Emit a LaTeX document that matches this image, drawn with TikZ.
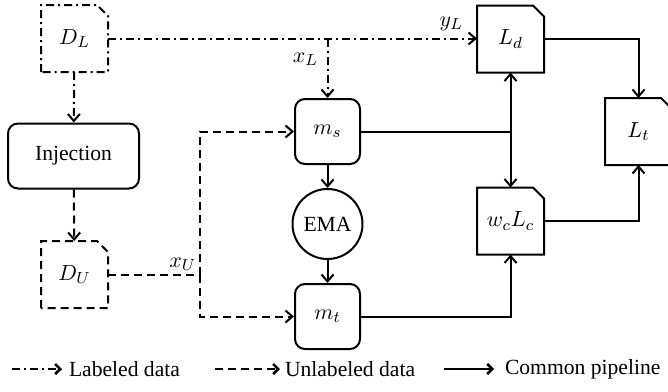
\documentclass[tikz,border=0pt]{standalone}
\usepackage{fontspec}
\setmainfont{Liberation Serif}
\usetikzlibrary{arrows.meta}

% outline of a data/loss file: cut corner at the top right
\newcommand{\fileshape}[2][]{%
    \draw[#1] (#2.south west) -- (#2.north west) -- ([xshift=-5.5pt]#2.north east)
        -- ([yshift=-5.5pt]#2.north east) -- (#2.south east) -- cycle;}

\tikzset{
    every node/.style={font=\fontsize{10.8}{13}\selectfont},
    tip/.style={-{Straight Barb[length=3.5pt,width=6pt]}},
    legtip/.style={-{Straight Barb[length=2.5pt,width=5pt,line width=1.3pt]}},
    labeled/.style={dash pattern=on 4pt off 2pt on 1pt off 2pt},
    unlabeled/.style={dash pattern=on 4pt off 2.5pt},
    block/.style={draw, rounded corners=5pt, minimum width=32.5pt, minimum height=32.5pt},
    datafile/.style={inner sep=0pt, minimum width=32.5pt, minimum height=32.5pt}
}

\begin{document}
\begin{tikzpicture}[x=0.5pt, y=-0.5pt, line width=1pt]
    \useasboundingbox (0,0) rectangle (668,391);
    % data
    \node[datafile] (DL) at (74.5,38.5) {$D_L$};
    \node[block, minimum width=65.5pt] (inj) at (73.5,156) {Injection};
    \node[datafile] (DU) at (74.5,274.5) {$D_U$};
    \fileshape[labeled]{DL}
    \fileshape[unlabeled]{DU}
    % models
    \node[block] (ms) at (327.5,131.5) {$m_s$};
    \node[draw, circle, minimum size=35pt, inner sep=0pt] (ema) at (327.5,224) {EMA};
    \node[block] (mt) at (327.5,316.5) {$m_t$};
    % losses
    \node[datafile] (Ld) at (510.5,39) {$L_d$};
    \node[datafile] (wL) at (510.5,221) {$w_cL_c$};
    \node[datafile] (Lt) at (638.5,131.5) {$L_t$};
    \fileshape{Ld}
    \fileshape{wL}
    \fileshape{Lt}
    \coordinate (uj) at (200,274.5);
    \coordinate (lj) at (Ld.south |- ms.east);
    \coordinate (dj) at (ms.north |- DL.east);

    % labeled data
    \draw[labeled, tip] (DL.east) -- node[above, pos=0.93] {$y_L$} (DL.east -| Ld.west);
    \draw[labeled, tip] (dj) -- node[left=1pt, pos=0.35] {$x_L$} (ms.north);
    \draw[labeled, tip] (DL) -- (inj);
    % unlabeled data
    \draw[unlabeled, tip] (inj) -- (DU);
    \draw[unlabeled] (DU.east) -- (uj) node[above left, inner sep=1.5pt] {$x_U$};
    \draw[unlabeled, tip] (uj) |- (ms.west);
    \draw[unlabeled, tip] (uj) |- (mt.west);
    % common pipeline
    \draw[tip] (ms) -- (ema);
    \draw[tip] (ema) -- (mt);
    \draw (ms.east) -- (lj);
    \draw[{Straight Barb[length=3.5pt,width=6pt]}-{Straight Barb[length=3.5pt,width=6pt]}] (Ld.south) -- (wL.north);
    \draw[tip] (mt.east) -| (wL.south);
    \draw[tip] (Ld.east) -| (Lt.north);
    \draw[tip] (wL.east) -| (Lt.south);

    % legend
    \node[right, inner sep=0pt] (legL) at (68,369) {Labeled data};
    \node[right, inner sep=0pt] (legU) at (284,369) {Unlabeled data};
    \node[right, inner sep=0pt] (legC) at (504,369) {Common pipeline};
    \coordinate (aL) at (12,369);
    \coordinate (aU) at (215,369);
    \coordinate (aC) at (444,369);
    \draw[labeled, legtip] (aL) -- ([xshift=-3pt]legL.west);
    \draw[unlabeled, legtip] (aU) -- ([xshift=-2pt]legU.west);
    \draw[legtip] (aC) -- ([xshift=-5pt]legC.west);
\end{tikzpicture}
\end{document}
